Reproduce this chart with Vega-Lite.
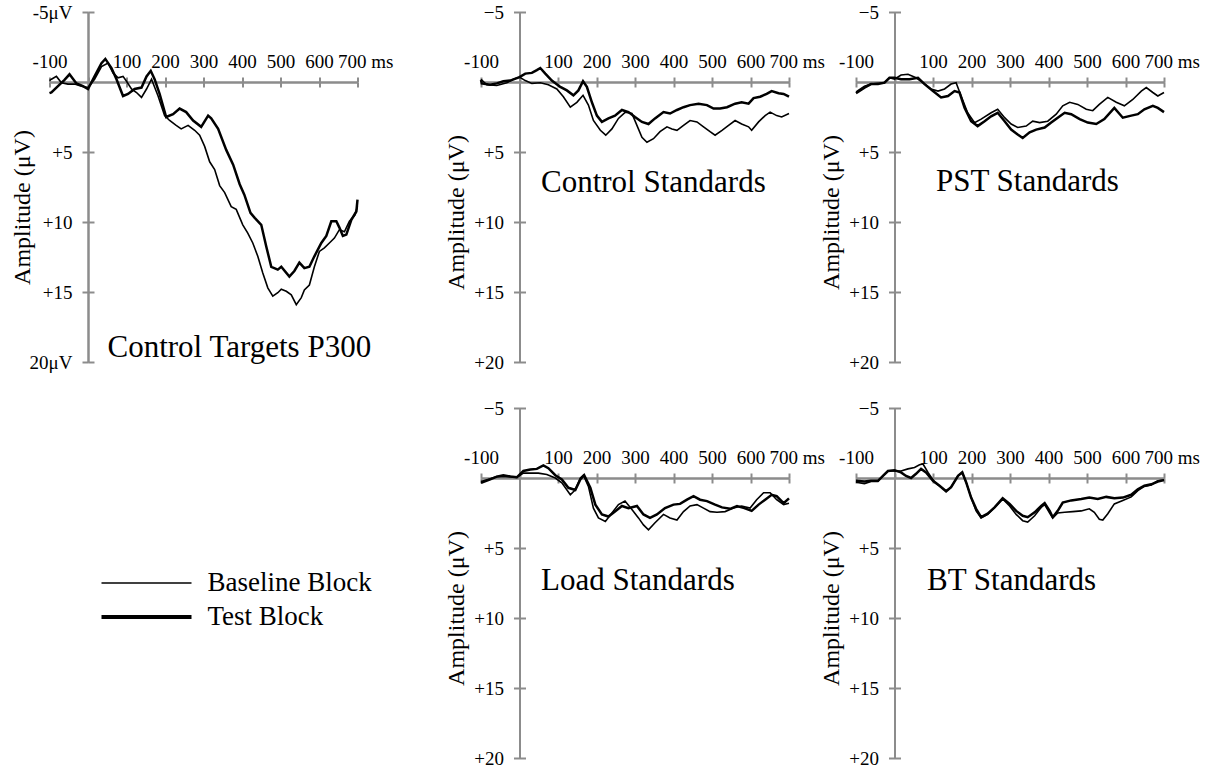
{
"$schema": "https://vega.github.io/schema/vega-lite/v6.json",
"padding": {"left": 9.5, "top": 3, "right": 5, "bottom": 5},
"background": "white",
"config": {
  "font": "Liberation Serif",
  "view": {"stroke": null},
  "axis": {"grid": false, "domainColor": "#8c8c8c", "domainWidth": 2, "tickColor": "#8c8c8c", "tickWidth": 2, "labelFont": "Liberation Serif", "labelFontSize": 19, "labelColor": "black", "titleFont": "Liberation Serif", "titleFontSize": 24, "titleFontWeight": "normal", "titleColor": "black", "labelFlush": false, "labelOverlap": false, "labelBound": false}
},
"datasets": {"erp": [
{"p":1,"b":"Test Block","t":-100,"v":0.8},{"p":1,"b":"Test Block","t":-95,"v":0.75},{"p":1,"b":"Test Block","t":-78,"v":0.3},{"p":1,"b":"Test Block","t":-61,"v":-0.15},{"p":1,"b":"Test Block","t":-48,"v":-0.55},{"p":1,"b":"Test Block","t":-30,"v":0.1},{"p":1,"b":"Test Block","t":-13,"v":0.3},{"p":1,"b":"Test Block","t":0,"v":0.5},{"p":1,"b":"Test Block","t":17,"v":-0.4},{"p":1,"b":"Test Block","t":35,"v":-1.35},{"p":1,"b":"Test Block","t":45,"v":-1.65},{"p":1,"b":"Test Block","t":61,"v":-1.0},{"p":1,"b":"Test Block","t":74,"v":-0.2},{"p":1,"b":"Test Block","t":91,"v":1.0},{"p":1,"b":"Test Block","t":104,"v":0.85},{"p":1,"b":"Test Block","t":121,"v":0.5},{"p":1,"b":"Test Block","t":139,"v":0.4},{"p":1,"b":"Test Block","t":152,"v":-0.4},{"p":1,"b":"Test Block","t":163,"v":-0.8},{"p":1,"b":"Test Block","t":173,"v":-0.2},{"p":1,"b":"Test Block","t":186,"v":0.85},{"p":1,"b":"Test Block","t":203,"v":2.5},{"p":1,"b":"Test Block","t":221,"v":2.3},{"p":1,"b":"Test Block","t":238,"v":1.9},{"p":1,"b":"Test Block","t":255,"v":2.15},{"p":1,"b":"Test Block","t":273,"v":2.75},{"p":1,"b":"Test Block","t":294,"v":3.2},{"p":1,"b":"Test Block","t":312,"v":2.4},{"p":1,"b":"Test Block","t":320,"v":2.6},{"p":1,"b":"Test Block","t":338,"v":3.35},{"p":1,"b":"Test Block","t":359,"v":4.85},{"p":1,"b":"Test Block","t":377,"v":5.9},{"p":1,"b":"Test Block","t":394,"v":7.3},{"p":1,"b":"Test Block","t":406,"v":8.05},{"p":1,"b":"Test Block","t":422,"v":9.35},{"p":1,"b":"Test Block","t":433,"v":9.7},{"p":1,"b":"Test Block","t":450,"v":10.2},{"p":1,"b":"Test Block","t":463,"v":11.75},{"p":1,"b":"Test Block","t":476,"v":13.2},{"p":1,"b":"Test Block","t":493,"v":13.4},{"p":1,"b":"Test Block","t":502,"v":13.2},{"p":1,"b":"Test Block","t":523,"v":13.9},{"p":1,"b":"Test Block","t":536,"v":13.5},{"p":1,"b":"Test Block","t":549,"v":12.9},{"p":1,"b":"Test Block","t":562,"v":13.3},{"p":1,"b":"Test Block","t":575,"v":13.2},{"p":1,"b":"Test Block","t":588,"v":12.45},{"p":1,"b":"Test Block","t":606,"v":11.5},{"p":1,"b":"Test Block","t":619,"v":11.0},{"p":1,"b":"Test Block","t":632,"v":9.95},{"p":1,"b":"Test Block","t":645,"v":9.95},{"p":1,"b":"Test Block","t":653,"v":10.4},{"p":1,"b":"Test Block","t":662,"v":11.0},{"p":1,"b":"Test Block","t":671,"v":10.9},{"p":1,"b":"Test Block","t":684,"v":9.85},{"p":1,"b":"Test Block","t":697,"v":9.25},{"p":1,"b":"Test Block","t":700,"v":8.4},
{"p":1,"b":"Baseline Block","t":-100,"v":-0.1},{"p":1,"b":"Baseline Block","t":-95,"v":-0.2},{"p":1,"b":"Baseline Block","t":-82,"v":-0.4},{"p":1,"b":"Baseline Block","t":-69,"v":0.05},{"p":1,"b":"Baseline Block","t":-52,"v":0.15},{"p":1,"b":"Baseline Block","t":-35,"v":0.15},{"p":1,"b":"Baseline Block","t":-17,"v":0.3},{"p":1,"b":"Baseline Block","t":0,"v":0.4},{"p":1,"b":"Baseline Block","t":17,"v":-0.2},{"p":1,"b":"Baseline Block","t":35,"v":-1.1},{"p":1,"b":"Baseline Block","t":52,"v":-1.35},{"p":1,"b":"Baseline Block","t":65,"v":-0.65},{"p":1,"b":"Baseline Block","t":78,"v":-0.3},{"p":1,"b":"Baseline Block","t":91,"v":-0.4},{"p":1,"b":"Baseline Block","t":100,"v":-0.05},{"p":1,"b":"Baseline Block","t":113,"v":0.5},{"p":1,"b":"Baseline Block","t":126,"v":0.75},{"p":1,"b":"Baseline Block","t":139,"v":1.1},{"p":1,"b":"Baseline Block","t":152,"v":0.5},{"p":1,"b":"Baseline Block","t":165,"v":-0.2},{"p":1,"b":"Baseline Block","t":182,"v":1.0},{"p":1,"b":"Baseline Block","t":199,"v":2.4},{"p":1,"b":"Baseline Block","t":212,"v":2.75},{"p":1,"b":"Baseline Block","t":229,"v":3.1},{"p":1,"b":"Baseline Block","t":242,"v":3.35},{"p":1,"b":"Baseline Block","t":260,"v":3.1},{"p":1,"b":"Baseline Block","t":277,"v":3.45},{"p":1,"b":"Baseline Block","t":290,"v":3.8},{"p":1,"b":"Baseline Block","t":303,"v":4.6},{"p":1,"b":"Baseline Block","t":316,"v":5.7},{"p":1,"b":"Baseline Block","t":329,"v":6.25},{"p":1,"b":"Baseline Block","t":342,"v":7.4},{"p":1,"b":"Baseline Block","t":355,"v":7.9},{"p":1,"b":"Baseline Block","t":372,"v":8.9},{"p":1,"b":"Baseline Block","t":385,"v":9.1},{"p":1,"b":"Baseline Block","t":402,"v":10.2},{"p":1,"b":"Baseline Block","t":415,"v":10.8},{"p":1,"b":"Baseline Block","t":428,"v":11.5},{"p":1,"b":"Baseline Block","t":441,"v":12.45},{"p":1,"b":"Baseline Block","t":454,"v":13.65},{"p":1,"b":"Baseline Block","t":467,"v":14.7},{"p":1,"b":"Baseline Block","t":480,"v":15.3},{"p":1,"b":"Baseline Block","t":493,"v":15.05},{"p":1,"b":"Baseline Block","t":502,"v":14.8},{"p":1,"b":"Baseline Block","t":515,"v":14.95},{"p":1,"b":"Baseline Block","t":528,"v":15.2},{"p":1,"b":"Baseline Block","t":541,"v":15.9},{"p":1,"b":"Baseline Block","t":554,"v":15.4},{"p":1,"b":"Baseline Block","t":562,"v":14.85},{"p":1,"b":"Baseline Block","t":575,"v":14.5},{"p":1,"b":"Baseline Block","t":588,"v":13.2},{"p":1,"b":"Baseline Block","t":601,"v":12.1},{"p":1,"b":"Baseline Block","t":614,"v":11.85},{"p":1,"b":"Baseline Block","t":627,"v":11.5},{"p":1,"b":"Baseline Block","t":640,"v":11.15},{"p":1,"b":"Baseline Block","t":653,"v":10.55},{"p":1,"b":"Baseline Block","t":666,"v":10.7},{"p":1,"b":"Baseline Block","t":679,"v":9.95},{"p":1,"b":"Baseline Block","t":693,"v":9.5},{"p":1,"b":"Baseline Block","t":700,"v":8.9},
{"p":2,"b":"Test Block","t":-100,"v":-0.15},{"p":2,"b":"Test Block","t":-98,"v":0.1},{"p":2,"b":"Test Block","t":-76,"v":0.2},{"p":2,"b":"Test Block","t":-59,"v":0.1},{"p":2,"b":"Test Block","t":-42,"v":-0.05},{"p":2,"b":"Test Block","t":-24,"v":-0.1},{"p":2,"b":"Test Block","t":0,"v":-0.35},{"p":2,"b":"Test Block","t":15,"v":-0.6},{"p":2,"b":"Test Block","t":32,"v":-0.65},{"p":2,"b":"Test Block","t":45,"v":-0.85},{"p":2,"b":"Test Block","t":54,"v":-1.0},{"p":2,"b":"Test Block","t":67,"v":-0.6},{"p":2,"b":"Test Block","t":84,"v":-0.1},{"p":2,"b":"Test Block","t":106,"v":0.35},{"p":2,"b":"Test Block","t":123,"v":0.6},{"p":2,"b":"Test Block","t":140,"v":0.95},{"p":2,"b":"Test Block","t":153,"v":0.6},{"p":2,"b":"Test Block","t":165,"v":-0.05},{"p":2,"b":"Test Block","t":175,"v":0.35},{"p":2,"b":"Test Block","t":188,"v":1.45},{"p":2,"b":"Test Block","t":201,"v":2.4},{"p":2,"b":"Test Block","t":214,"v":2.85},{"p":2,"b":"Test Block","t":231,"v":2.6},{"p":2,"b":"Test Block","t":248,"v":2.4},{"p":2,"b":"Test Block","t":266,"v":2.0},{"p":2,"b":"Test Block","t":283,"v":2.15},{"p":2,"b":"Test Block","t":300,"v":2.5},{"p":2,"b":"Test Block","t":318,"v":2.85},{"p":2,"b":"Test Block","t":335,"v":3.0},{"p":2,"b":"Test Block","t":352,"v":2.6},{"p":2,"b":"Test Block","t":374,"v":2.15},{"p":2,"b":"Test Block","t":391,"v":2.25},{"p":2,"b":"Test Block","t":409,"v":2.0},{"p":2,"b":"Test Block","t":426,"v":1.8},{"p":2,"b":"Test Block","t":443,"v":1.65},{"p":2,"b":"Test Block","t":465,"v":1.55},{"p":2,"b":"Test Block","t":487,"v":1.65},{"p":2,"b":"Test Block","t":504,"v":1.9},{"p":2,"b":"Test Block","t":521,"v":1.9},{"p":2,"b":"Test Block","t":539,"v":1.8},{"p":2,"b":"Test Block","t":560,"v":1.55},{"p":2,"b":"Test Block","t":577,"v":1.45},{"p":2,"b":"Test Block","t":595,"v":1.55},{"p":2,"b":"Test Block","t":608,"v":1.15},{"p":2,"b":"Test Block","t":625,"v":1.05},{"p":2,"b":"Test Block","t":642,"v":0.85},{"p":2,"b":"Test Block","t":655,"v":0.65},{"p":2,"b":"Test Block","t":673,"v":0.8},{"p":2,"b":"Test Block","t":686,"v":0.85},{"p":2,"b":"Test Block","t":700,"v":1.05},
{"p":2,"b":"Baseline Block","t":-100,"v":-0.2},{"p":2,"b":"Baseline Block","t":-85,"v":0.2},{"p":2,"b":"Baseline Block","t":-59,"v":0.25},{"p":2,"b":"Baseline Block","t":-33,"v":0.05},{"p":2,"b":"Baseline Block","t":-16,"v":-0.2},{"p":2,"b":"Baseline Block","t":0,"v":-0.35},{"p":2,"b":"Baseline Block","t":15,"v":-0.1},{"p":2,"b":"Baseline Block","t":32,"v":0.1},{"p":2,"b":"Baseline Block","t":54,"v":0.05},{"p":2,"b":"Baseline Block","t":75,"v":0.2},{"p":2,"b":"Baseline Block","t":97,"v":0.5},{"p":2,"b":"Baseline Block","t":114,"v":1.05},{"p":2,"b":"Baseline Block","t":132,"v":1.8},{"p":2,"b":"Baseline Block","t":149,"v":1.45},{"p":2,"b":"Baseline Block","t":165,"v":0.95},{"p":2,"b":"Baseline Block","t":179,"v":1.65},{"p":2,"b":"Baseline Block","t":192,"v":2.75},{"p":2,"b":"Baseline Block","t":210,"v":3.45},{"p":2,"b":"Baseline Block","t":224,"v":3.8},{"p":2,"b":"Baseline Block","t":240,"v":3.35},{"p":2,"b":"Baseline Block","t":257,"v":2.6},{"p":2,"b":"Baseline Block","t":275,"v":2.15},{"p":2,"b":"Baseline Block","t":292,"v":2.25},{"p":2,"b":"Baseline Block","t":305,"v":3.1},{"p":2,"b":"Baseline Block","t":318,"v":3.95},{"p":2,"b":"Baseline Block","t":331,"v":4.3},{"p":2,"b":"Baseline Block","t":348,"v":4.05},{"p":2,"b":"Baseline Block","t":365,"v":3.55},{"p":2,"b":"Baseline Block","t":383,"v":3.2},{"p":2,"b":"Baseline Block","t":396,"v":3.35},{"p":2,"b":"Baseline Block","t":409,"v":3.45},{"p":2,"b":"Baseline Block","t":426,"v":3.1},{"p":2,"b":"Baseline Block","t":443,"v":2.75},{"p":2,"b":"Baseline Block","t":461,"v":2.85},{"p":2,"b":"Baseline Block","t":478,"v":3.2},{"p":2,"b":"Baseline Block","t":495,"v":3.55},{"p":2,"b":"Baseline Block","t":508,"v":3.8},{"p":2,"b":"Baseline Block","t":526,"v":3.45},{"p":2,"b":"Baseline Block","t":543,"v":3.1},{"p":2,"b":"Baseline Block","t":560,"v":2.75},{"p":2,"b":"Baseline Block","t":577,"v":3.0},{"p":2,"b":"Baseline Block","t":595,"v":3.2},{"p":2,"b":"Baseline Block","t":603,"v":3.45},{"p":2,"b":"Baseline Block","t":621,"v":2.85},{"p":2,"b":"Baseline Block","t":638,"v":2.4},{"p":2,"b":"Baseline Block","t":651,"v":2.15},{"p":2,"b":"Baseline Block","t":668,"v":2.4},{"p":2,"b":"Baseline Block","t":681,"v":2.5},{"p":2,"b":"Baseline Block","t":700,"v":2.25},
{"p":3,"b":"Test Block","t":-100,"v":0.8},{"p":3,"b":"Test Block","t":-97,"v":0.75},{"p":3,"b":"Test Block","t":-78,"v":0.4},{"p":3,"b":"Test Block","t":-61,"v":0.15},{"p":3,"b":"Test Block","t":-43,"v":0.15},{"p":3,"b":"Test Block","t":-26,"v":0.05},{"p":3,"b":"Test Block","t":-13,"v":-0.3},{"p":3,"b":"Test Block","t":0,"v":-0.3},{"p":3,"b":"Test Block","t":17,"v":-0.2},{"p":3,"b":"Test Block","t":39,"v":-0.2},{"p":3,"b":"Test Block","t":61,"v":-0.3},{"p":3,"b":"Test Block","t":78,"v":0.15},{"p":3,"b":"Test Block","t":100,"v":0.65},{"p":3,"b":"Test Block","t":121,"v":1.1},{"p":3,"b":"Test Block","t":139,"v":1.0},{"p":3,"b":"Test Block","t":156,"v":0.65},{"p":3,"b":"Test Block","t":169,"v":0.75},{"p":3,"b":"Test Block","t":182,"v":1.85},{"p":3,"b":"Test Block","t":199,"v":2.8},{"p":3,"b":"Test Block","t":216,"v":3.15},{"p":3,"b":"Test Block","t":234,"v":2.8},{"p":3,"b":"Test Block","t":251,"v":2.45},{"p":3,"b":"Test Block","t":268,"v":2.2},{"p":3,"b":"Test Block","t":286,"v":2.8},{"p":3,"b":"Test Block","t":303,"v":3.4},{"p":3,"b":"Test Block","t":320,"v":3.75},{"p":3,"b":"Test Block","t":333,"v":4.0},{"p":3,"b":"Test Block","t":351,"v":3.6},{"p":3,"b":"Test Block","t":368,"v":3.4},{"p":3,"b":"Test Block","t":390,"v":3.25},{"p":3,"b":"Test Block","t":407,"v":2.9},{"p":3,"b":"Test Block","t":424,"v":2.55},{"p":3,"b":"Test Block","t":442,"v":2.2},{"p":3,"b":"Test Block","t":459,"v":2.3},{"p":3,"b":"Test Block","t":481,"v":2.65},{"p":3,"b":"Test Block","t":502,"v":2.9},{"p":3,"b":"Test Block","t":524,"v":3.0},{"p":3,"b":"Test Block","t":545,"v":2.65},{"p":3,"b":"Test Block","t":571,"v":1.85},{"p":3,"b":"Test Block","t":593,"v":2.55},{"p":3,"b":"Test Block","t":615,"v":2.4},{"p":3,"b":"Test Block","t":632,"v":2.3},{"p":3,"b":"Test Block","t":649,"v":1.95},{"p":3,"b":"Test Block","t":671,"v":1.7},{"p":3,"b":"Test Block","t":684,"v":1.85},{"p":3,"b":"Test Block","t":700,"v":2.15},
{"p":3,"b":"Baseline Block","t":-100,"v":0.7},{"p":3,"b":"Baseline Block","t":-97,"v":0.65},{"p":3,"b":"Baseline Block","t":-78,"v":0.3},{"p":3,"b":"Baseline Block","t":-61,"v":0.15},{"p":3,"b":"Baseline Block","t":-43,"v":0.1},{"p":3,"b":"Baseline Block","t":-26,"v":0.05},{"p":3,"b":"Baseline Block","t":-13,"v":-0.3},{"p":3,"b":"Baseline Block","t":0,"v":-0.2},{"p":3,"b":"Baseline Block","t":17,"v":-0.5},{"p":3,"b":"Baseline Block","t":35,"v":-0.55},{"p":3,"b":"Baseline Block","t":56,"v":-0.3},{"p":3,"b":"Baseline Block","t":74,"v":0.05},{"p":3,"b":"Baseline Block","t":95,"v":0.5},{"p":3,"b":"Baseline Block","t":113,"v":0.65},{"p":3,"b":"Baseline Block","t":130,"v":0.5},{"p":3,"b":"Baseline Block","t":147,"v":0.15},{"p":3,"b":"Baseline Block","t":160,"v":0.05},{"p":3,"b":"Baseline Block","t":173,"v":1.0},{"p":3,"b":"Baseline Block","t":190,"v":2.2},{"p":3,"b":"Baseline Block","t":208,"v":2.9},{"p":3,"b":"Baseline Block","t":225,"v":2.65},{"p":3,"b":"Baseline Block","t":251,"v":2.2},{"p":3,"b":"Baseline Block","t":268,"v":1.95},{"p":3,"b":"Baseline Block","t":286,"v":2.55},{"p":3,"b":"Baseline Block","t":303,"v":3.0},{"p":3,"b":"Baseline Block","t":320,"v":3.25},{"p":3,"b":"Baseline Block","t":342,"v":3.15},{"p":3,"b":"Baseline Block","t":359,"v":2.8},{"p":3,"b":"Baseline Block","t":377,"v":2.9},{"p":3,"b":"Baseline Block","t":398,"v":2.8},{"p":3,"b":"Baseline Block","t":420,"v":2.3},{"p":3,"b":"Baseline Block","t":437,"v":1.7},{"p":3,"b":"Baseline Block","t":455,"v":1.45},{"p":3,"b":"Baseline Block","t":476,"v":1.6},{"p":3,"b":"Baseline Block","t":498,"v":1.95},{"p":3,"b":"Baseline Block","t":515,"v":2.05},{"p":3,"b":"Baseline Block","t":532,"v":1.6},{"p":3,"b":"Baseline Block","t":554,"v":1.1},{"p":3,"b":"Baseline Block","t":576,"v":1.45},{"p":3,"b":"Baseline Block","t":597,"v":1.7},{"p":3,"b":"Baseline Block","t":619,"v":1.25},{"p":3,"b":"Baseline Block","t":641,"v":0.65},{"p":3,"b":"Baseline Block","t":654,"v":0.4},{"p":3,"b":"Baseline Block","t":671,"v":0.75},{"p":3,"b":"Baseline Block","t":684,"v":1.0},{"p":3,"b":"Baseline Block","t":700,"v":0.75},
{"p":4,"b":"Test Block","t":-100,"v":0.35},{"p":4,"b":"Test Block","t":-76,"v":0.1},{"p":4,"b":"Test Block","t":-59,"v":-0.1},{"p":4,"b":"Test Block","t":-42,"v":-0.2},{"p":4,"b":"Test Block","t":-24,"v":-0.1},{"p":4,"b":"Test Block","t":-7,"v":-0.05},{"p":4,"b":"Test Block","t":10,"v":-0.5},{"p":4,"b":"Test Block","t":28,"v":-0.6},{"p":4,"b":"Test Block","t":45,"v":-0.65},{"p":4,"b":"Test Block","t":62,"v":-0.9},{"p":4,"b":"Test Block","t":75,"v":-0.7},{"p":4,"b":"Test Block","t":93,"v":-0.2},{"p":4,"b":"Test Block","t":110,"v":0.1},{"p":4,"b":"Test Block","t":127,"v":0.7},{"p":4,"b":"Test Block","t":145,"v":0.85},{"p":4,"b":"Test Block","t":158,"v":0.1},{"p":4,"b":"Test Block","t":168,"v":-0.2},{"p":4,"b":"Test Block","t":184,"v":0.7},{"p":4,"b":"Test Block","t":197,"v":1.9},{"p":4,"b":"Test Block","t":214,"v":2.6},{"p":4,"b":"Test Block","t":231,"v":2.75},{"p":4,"b":"Test Block","t":248,"v":2.4},{"p":4,"b":"Test Block","t":266,"v":2.0},{"p":4,"b":"Test Block","t":283,"v":2.15},{"p":4,"b":"Test Block","t":305,"v":2.0},{"p":4,"b":"Test Block","t":322,"v":2.6},{"p":4,"b":"Test Block","t":339,"v":2.85},{"p":4,"b":"Test Block","t":357,"v":2.6},{"p":4,"b":"Test Block","t":378,"v":2.15},{"p":4,"b":"Test Block","t":400,"v":1.9},{"p":4,"b":"Test Block","t":417,"v":1.85},{"p":4,"b":"Test Block","t":435,"v":1.55},{"p":4,"b":"Test Block","t":452,"v":1.3},{"p":4,"b":"Test Block","t":469,"v":1.55},{"p":4,"b":"Test Block","t":487,"v":1.65},{"p":4,"b":"Test Block","t":508,"v":1.9},{"p":4,"b":"Test Block","t":526,"v":2.1},{"p":4,"b":"Test Block","t":547,"v":2.2},{"p":4,"b":"Test Block","t":565,"v":2.0},{"p":4,"b":"Test Block","t":584,"v":2.15},{"p":4,"b":"Test Block","t":603,"v":2.35},{"p":4,"b":"Test Block","t":621,"v":1.9},{"p":4,"b":"Test Block","t":638,"v":1.55},{"p":4,"b":"Test Block","t":655,"v":1.2},{"p":4,"b":"Test Block","t":668,"v":1.3},{"p":4,"b":"Test Block","t":686,"v":1.8},{"p":4,"b":"Test Block","t":700,"v":1.45},
{"p":4,"b":"Baseline Block","t":-100,"v":0.25},{"p":4,"b":"Baseline Block","t":-76,"v":0.05},{"p":4,"b":"Baseline Block","t":-59,"v":-0.1},{"p":4,"b":"Baseline Block","t":-42,"v":-0.1},{"p":4,"b":"Baseline Block","t":-24,"v":-0.1},{"p":4,"b":"Baseline Block","t":-7,"v":-0.05},{"p":4,"b":"Baseline Block","t":10,"v":-0.35},{"p":4,"b":"Baseline Block","t":28,"v":-0.35},{"p":4,"b":"Baseline Block","t":49,"v":-0.35},{"p":4,"b":"Baseline Block","t":71,"v":-0.25},{"p":4,"b":"Baseline Block","t":93,"v":0.0},{"p":4,"b":"Baseline Block","t":110,"v":0.35},{"p":4,"b":"Baseline Block","t":132,"v":1.2},{"p":4,"b":"Baseline Block","t":145,"v":0.85},{"p":4,"b":"Baseline Block","t":158,"v":0.0},{"p":4,"b":"Baseline Block","t":166,"v":-0.2},{"p":4,"b":"Baseline Block","t":179,"v":0.6},{"p":4,"b":"Baseline Block","t":192,"v":2.15},{"p":4,"b":"Baseline Block","t":205,"v":2.85},{"p":4,"b":"Baseline Block","t":223,"v":3.1},{"p":4,"b":"Baseline Block","t":240,"v":2.5},{"p":4,"b":"Baseline Block","t":257,"v":1.9},{"p":4,"b":"Baseline Block","t":274,"v":1.65},{"p":4,"b":"Baseline Block","t":292,"v":2.25},{"p":4,"b":"Baseline Block","t":309,"v":2.85},{"p":4,"b":"Baseline Block","t":322,"v":3.35},{"p":4,"b":"Baseline Block","t":335,"v":3.7},{"p":4,"b":"Baseline Block","t":352,"v":3.2},{"p":4,"b":"Baseline Block","t":374,"v":2.6},{"p":4,"b":"Baseline Block","t":391,"v":2.85},{"p":4,"b":"Baseline Block","t":409,"v":3.0},{"p":4,"b":"Baseline Block","t":426,"v":2.4},{"p":4,"b":"Baseline Block","t":443,"v":2.0},{"p":4,"b":"Baseline Block","t":461,"v":1.9},{"p":4,"b":"Baseline Block","t":478,"v":2.15},{"p":4,"b":"Baseline Block","t":495,"v":2.4},{"p":4,"b":"Baseline Block","t":513,"v":2.45},{"p":4,"b":"Baseline Block","t":534,"v":2.4},{"p":4,"b":"Baseline Block","t":556,"v":2.15},{"p":4,"b":"Baseline Block","t":577,"v":2.0},{"p":4,"b":"Baseline Block","t":599,"v":2.15},{"p":4,"b":"Baseline Block","t":616,"v":1.55},{"p":4,"b":"Baseline Block","t":634,"v":1.05},{"p":4,"b":"Baseline Block","t":651,"v":1.05},{"p":4,"b":"Baseline Block","t":668,"v":1.55},{"p":4,"b":"Baseline Block","t":686,"v":1.9},{"p":4,"b":"Baseline Block","t":700,"v":1.8},
{"p":5,"b":"Test Block","t":-100,"v":0.2},{"p":5,"b":"Test Block","t":-78,"v":0.25},{"p":5,"b":"Test Block","t":-61,"v":0.2},{"p":5,"b":"Test Block","t":-43,"v":0.2},{"p":5,"b":"Test Block","t":-30,"v":-0.15},{"p":5,"b":"Test Block","t":-17,"v":-0.5},{"p":5,"b":"Test Block","t":0,"v":-0.55},{"p":5,"b":"Test Block","t":17,"v":-0.4},{"p":5,"b":"Test Block","t":30,"v":-0.15},{"p":5,"b":"Test Block","t":43,"v":0.0},{"p":5,"b":"Test Block","t":56,"v":-0.3},{"p":5,"b":"Test Block","t":69,"v":-0.65},{"p":5,"b":"Test Block","t":82,"v":-0.4},{"p":5,"b":"Test Block","t":100,"v":0.2},{"p":5,"b":"Test Block","t":117,"v":0.55},{"p":5,"b":"Test Block","t":134,"v":0.95},{"p":5,"b":"Test Block","t":147,"v":0.65},{"p":5,"b":"Test Block","t":165,"v":-0.15},{"p":5,"b":"Test Block","t":176,"v":-0.4},{"p":5,"b":"Test Block","t":186,"v":0.3},{"p":5,"b":"Test Block","t":199,"v":1.4},{"p":5,"b":"Test Block","t":212,"v":2.2},{"p":5,"b":"Test Block","t":225,"v":2.8},{"p":5,"b":"Test Block","t":242,"v":2.55},{"p":5,"b":"Test Block","t":260,"v":2.1},{"p":5,"b":"Test Block","t":281,"v":1.45},{"p":5,"b":"Test Block","t":299,"v":1.85},{"p":5,"b":"Test Block","t":316,"v":2.35},{"p":5,"b":"Test Block","t":333,"v":2.7},{"p":5,"b":"Test Block","t":346,"v":2.8},{"p":5,"b":"Test Block","t":364,"v":2.45},{"p":5,"b":"Test Block","t":381,"v":2.0},{"p":5,"b":"Test Block","t":390,"v":1.8},{"p":5,"b":"Test Block","t":403,"v":2.35},{"p":5,"b":"Test Block","t":411,"v":2.8},{"p":5,"b":"Test Block","t":424,"v":2.35},{"p":5,"b":"Test Block","t":437,"v":1.75},{"p":5,"b":"Test Block","t":459,"v":1.6},{"p":5,"b":"Test Block","t":485,"v":1.5},{"p":5,"b":"Test Block","t":506,"v":1.4},{"p":5,"b":"Test Block","t":528,"v":1.5},{"p":5,"b":"Test Block","t":550,"v":1.35},{"p":5,"b":"Test Block","t":571,"v":1.45},{"p":5,"b":"Test Block","t":593,"v":1.4},{"p":5,"b":"Test Block","t":615,"v":1.2},{"p":5,"b":"Test Block","t":632,"v":0.8},{"p":5,"b":"Test Block","t":649,"v":0.55},{"p":5,"b":"Test Block","t":667,"v":0.45},{"p":5,"b":"Test Block","t":684,"v":0.25},{"p":5,"b":"Test Block","t":700,"v":0.15},
{"p":5,"b":"Baseline Block","t":-100,"v":0.3},{"p":5,"b":"Baseline Block","t":-78,"v":0.4},{"p":5,"b":"Baseline Block","t":-61,"v":0.25},{"p":5,"b":"Baseline Block","t":-43,"v":0.25},{"p":5,"b":"Baseline Block","t":-30,"v":-0.15},{"p":5,"b":"Baseline Block","t":-17,"v":-0.5},{"p":5,"b":"Baseline Block","t":0,"v":-0.5},{"p":5,"b":"Baseline Block","t":17,"v":-0.5},{"p":5,"b":"Baseline Block","t":35,"v":-0.65},{"p":5,"b":"Baseline Block","t":52,"v":-0.75},{"p":5,"b":"Baseline Block","t":65,"v":-0.95},{"p":5,"b":"Baseline Block","t":74,"v":-1.0},{"p":5,"b":"Baseline Block","t":87,"v":-0.4},{"p":5,"b":"Baseline Block","t":104,"v":0.3},{"p":5,"b":"Baseline Block","t":121,"v":0.65},{"p":5,"b":"Baseline Block","t":134,"v":0.95},{"p":5,"b":"Baseline Block","t":147,"v":0.65},{"p":5,"b":"Baseline Block","t":165,"v":-0.15},{"p":5,"b":"Baseline Block","t":176,"v":-0.4},{"p":5,"b":"Baseline Block","t":186,"v":0.3},{"p":5,"b":"Baseline Block","t":199,"v":1.4},{"p":5,"b":"Baseline Block","t":212,"v":2.35},{"p":5,"b":"Baseline Block","t":225,"v":2.85},{"p":5,"b":"Baseline Block","t":242,"v":2.6},{"p":5,"b":"Baseline Block","t":260,"v":2.1},{"p":5,"b":"Baseline Block","t":281,"v":1.5},{"p":5,"b":"Baseline Block","t":299,"v":2.0},{"p":5,"b":"Baseline Block","t":316,"v":2.6},{"p":5,"b":"Baseline Block","t":333,"v":3.05},{"p":5,"b":"Baseline Block","t":346,"v":3.15},{"p":5,"b":"Baseline Block","t":364,"v":2.7},{"p":5,"b":"Baseline Block","t":381,"v":2.1},{"p":5,"b":"Baseline Block","t":390,"v":1.9},{"p":5,"b":"Baseline Block","t":403,"v":2.5},{"p":5,"b":"Baseline Block","t":411,"v":2.85},{"p":5,"b":"Baseline Block","t":424,"v":2.5},{"p":5,"b":"Baseline Block","t":442,"v":2.45},{"p":5,"b":"Baseline Block","t":463,"v":2.4},{"p":5,"b":"Baseline Block","t":485,"v":2.35},{"p":5,"b":"Baseline Block","t":506,"v":2.2},{"p":5,"b":"Baseline Block","t":519,"v":2.45},{"p":5,"b":"Baseline Block","t":532,"v":2.95},{"p":5,"b":"Baseline Block","t":541,"v":3.0},{"p":5,"b":"Baseline Block","t":554,"v":2.55},{"p":5,"b":"Baseline Block","t":571,"v":1.85},{"p":5,"b":"Baseline Block","t":593,"v":1.6},{"p":5,"b":"Baseline Block","t":615,"v":1.35},{"p":5,"b":"Baseline Block","t":632,"v":0.9},{"p":5,"b":"Baseline Block","t":649,"v":0.6},{"p":5,"b":"Baseline Block","t":667,"v":0.5},{"p":5,"b":"Baseline Block","t":684,"v":0.2},{"p":5,"b":"Baseline Block","t":700,"v":0.15}
]},
"bounds": "flush",
"spacing": 123.5,
"resolve": {"scale": {"x": "independent", "y": "independent", "strokeWidth": "independent"}, "legend": {"strokeWidth": "independent"}},
"hconcat": [
 {
  "width": 308, "height": 350,
  "title": {"text": "Control Targets P300", "orient": "top", "anchor": "start", "frame": "group", "align": "left", "baseline": "alphabetic", "dx": 58, "dy": 385, "offset": 0, "font": "Liberation Serif", "fontSize": 31, "fontWeight": "normal", "color": "black"},
  "data": {"name": "erp"},
  "transform": [{"filter": "datum.p == 1"}],
  "resolve": {"axis": {"x": "independent", "y": "independent"}},
  "layer": [
   {"transform": [{"filter": "datum.b == 'Baseline Block'"}],
    "mark": {"type": "line", "color": "black"},
    "encoding": {
     "x": {"field": "t", "type": "quantitative", "scale": {"domain": [-100, 700], "nice": false, "zero": false}, "axis": {"orient": "top", "offset": -70, "values": [-100, 0, 100, 200, 300, 400, 500, 600, 700], "labelExpr": "datum.value == 0 ? '' : datum.value == 700 ? '700 ms' : '' + datum.value", "labelAlign": {"condition": {"test": "datum.value == 700", "value": "left"}, "value": "center"}, "labelOffset": {"condition": {"test": "datum.value == 700", "value": -20}, "value": 0}, "title": null, "tickSize": 5, "labelPadding": 6}},
     "y": {"field": "v", "type": "quantitative", "scale": {"domain": [-5, 20], "reverse": true, "nice": false, "zero": false}, "axis": {"orient": "left", "offset": -38.5, "values": [-5, 5, 10, 15, 20], "labelExpr": "datum.value == -5 ? '-5μV' : datum.value == 20 ? '20μV' : '+' + datum.value", "title": "Amplitude (μV)", "titleAngle": -90, "titleX": -66, "titleY": 195, "titleAlign": "center", "titleBaseline": "middle", "tickSize": 6, "labelPadding": 10}},
     "strokeWidth": {"field": "b", "type": "nominal", "scale": {"type": "ordinal", "domain": ["Baseline Block", "Test Block"], "range": [1.6, 3.8]}, "legend": {"orient": "none", "legendX": 80, "legendY": 555, "title": null, "padding": 0, "symbolType": "M-3,0L3,0", "symbolSize": 900, "symbolStrokeColor": "black", "labelFont": "Liberation Serif", "labelFontSize": 27, "labelColor": "black", "labelOffset": 44, "rowPadding": 4, "labelLimit": 400}}
    }},
   {"transform": [{"filter": "datum.b == 'Test Block'"}],
    "mark": {"type": "line", "color": "black"},
    "encoding": {
     "x": {"field": "t", "type": "quantitative", "axis": {"orient": "bottom", "offset": -280, "values": [-100, 100, 200, 300, 400, 500, 600, 700], "labels": false, "title": null, "tickSize": 5}},
     "y": {"field": "v", "type": "quantitative", "axis": {"orient": "right", "offset": -269.5, "values": [-5, 5, 10, 15, 20], "labels": false, "title": null, "tickSize": 6}},
     "strokeWidth": {"field": "b", "type": "nominal", "legend": null}
    }}
  ]
 },
 {
  "bounds": "full",
  "spacing": 27,
  "resolve": {"scale": {"x": "independent", "y": "independent", "strokeWidth": "independent"}, "legend": {"strokeWidth": "independent"}},
  "vconcat": [
   {"bounds": "flush", "spacing": 67,
    "resolve": {"scale": {"x": "independent", "y": "independent", "strokeWidth": "independent"}, "legend": {"strokeWidth": "independent"}},
    "hconcat": [
    {
     "width": 308, "height": 350,
     "title": {"text": "Control Standards", "orient": "top", "anchor": "start", "frame": "group", "align": "left", "baseline": "alphabetic", "dx": 60, "dy": 220, "offset": 0, "font": "Liberation Serif", "fontSize": 31, "fontWeight": "normal", "color": "black"},
     "data": {"name": "erp"},
     "transform": [{"filter": "datum.p == 2"}],
     "resolve": {"axis": {"x": "independent", "y": "independent"}},
     "layer": [
      {"transform": [{"filter": "datum.b == 'Baseline Block'"}],
       "mark": {"type": "line", "color": "black"},
       "encoding": {
        "x": {"field": "t", "type": "quantitative", "scale": {"domain": [-100, 700], "nice": false, "zero": false}, "axis": {"orient": "top", "offset": -70, "values": [-100, 0, 100, 200, 300, 400, 500, 600, 700], "labelExpr": "datum.value == 0 ? '' : datum.value == 700 ? '700 ms' : '' + datum.value", "labelAlign": {"condition": {"test": "datum.value == 700", "value": "left"}, "value": "center"}, "labelOffset": {"condition": {"test": "datum.value == 700", "value": -20}, "value": 0}, "title": null, "tickSize": 5, "labelPadding": 6}},
        "y": {"field": "v", "type": "quantitative", "scale": {"domain": [-5, 20], "reverse": true, "nice": false, "zero": false}, "axis": {"orient": "left", "offset": -38.5, "values": [-5, 5, 10, 15, 20], "labelExpr": "datum.value < 0 ? '−5' : '+' + datum.value", "title": "Amplitude (μV)", "titleAngle": -90, "titleX": -63, "titleY": 200, "titleAlign": "center", "titleBaseline": "middle", "tickSize": 6, "labelPadding": 10}},
        "strokeWidth": {"field": "b", "type": "nominal", "scale": {"type": "ordinal", "domain": ["Baseline Block", "Test Block"], "range": [1.6, 3.8]}, "legend": null}
       }},
      {"transform": [{"filter": "datum.b == 'Test Block'"}],
       "mark": {"type": "line", "color": "black"},
       "encoding": {
        "x": {"field": "t", "type": "quantitative", "axis": {"orient": "bottom", "offset": -280, "values": [-100, 100, 200, 300, 400, 500, 600, 700], "labels": false, "title": null, "tickSize": 5}},
        "y": {"field": "v", "type": "quantitative", "axis": {"orient": "right", "offset": -269.5, "values": [-5, 5, 10, 15, 20], "labels": false, "title": null, "tickSize": 6}},
        "strokeWidth": {"field": "b", "type": "nominal", "legend": null}
       }}
     ]
    },
    {
     "width": 308, "height": 350,
     "title": {"text": "PST Standards", "orient": "top", "anchor": "start", "frame": "group", "align": "left", "baseline": "alphabetic", "dx": 80, "dy": 219, "offset": 0, "font": "Liberation Serif", "fontSize": 31, "fontWeight": "normal", "color": "black"},
     "data": {"name": "erp"},
     "transform": [{"filter": "datum.p == 3"}],
     "resolve": {"axis": {"x": "independent", "y": "independent"}},
     "layer": [
      {"transform": [{"filter": "datum.b == 'Baseline Block'"}],
       "mark": {"type": "line", "color": "black"},
       "encoding": {
        "x": {"field": "t", "type": "quantitative", "scale": {"domain": [-100, 700], "nice": false, "zero": false}, "axis": {"orient": "top", "offset": -70, "values": [-100, 0, 100, 200, 300, 400, 500, 600, 700], "labelExpr": "datum.value == 0 ? '' : datum.value == 700 ? '700 ms' : '' + datum.value", "labelAlign": {"condition": {"test": "datum.value == 700", "value": "left"}, "value": "center"}, "labelOffset": {"condition": {"test": "datum.value == 700", "value": -20}, "value": 0}, "title": null, "tickSize": 5, "labelPadding": 6}},
        "y": {"field": "v", "type": "quantitative", "scale": {"domain": [-5, 20], "reverse": true, "nice": false, "zero": false}, "axis": {"orient": "left", "offset": -38.5, "values": [-5, 5, 10, 15, 20], "labelExpr": "datum.value < 0 ? '−5' : '+' + datum.value", "title": "Amplitude (μV)", "titleAngle": -90, "titleX": -63, "titleY": 200, "titleAlign": "center", "titleBaseline": "middle", "tickSize": 6, "labelPadding": 10}},
        "strokeWidth": {"field": "b", "type": "nominal", "scale": {"type": "ordinal", "domain": ["Baseline Block", "Test Block"], "range": [1.6, 3.8]}, "legend": null}
       }},
      {"transform": [{"filter": "datum.b == 'Test Block'"}],
       "mark": {"type": "line", "color": "black"},
       "encoding": {
        "x": {"field": "t", "type": "quantitative", "axis": {"orient": "bottom", "offset": -280, "values": [-100, 100, 200, 300, 400, 500, 600, 700], "labels": false, "title": null, "tickSize": 5}},
        "y": {"field": "v", "type": "quantitative", "axis": {"orient": "right", "offset": -269.5, "values": [-5, 5, 10, 15, 20], "labels": false, "title": null, "tickSize": 6}},
        "strokeWidth": {"field": "b", "type": "nominal", "legend": null}
       }}
     ]
    }
   ]},
   {"bounds": "flush", "spacing": 67,
    "resolve": {"scale": {"x": "independent", "y": "independent", "strokeWidth": "independent"}, "legend": {"strokeWidth": "independent"}},
    "hconcat": [
    {
     "width": 308, "height": 350,
     "title": {"text": "Load Standards", "orient": "top", "anchor": "start", "frame": "group", "align": "left", "baseline": "alphabetic", "dx": 60, "dy": 222, "offset": 0, "font": "Liberation Serif", "fontSize": 31, "fontWeight": "normal", "color": "black"},
     "data": {"name": "erp"},
     "transform": [{"filter": "datum.p == 4"}],
     "resolve": {"axis": {"x": "independent", "y": "independent"}},
     "layer": [
      {"transform": [{"filter": "datum.b == 'Baseline Block'"}],
       "mark": {"type": "line", "color": "black"},
       "encoding": {
        "x": {"field": "t", "type": "quantitative", "scale": {"domain": [-100, 700], "nice": false, "zero": false}, "axis": {"orient": "top", "offset": -70, "values": [-100, 0, 100, 200, 300, 400, 500, 600, 700], "labelExpr": "datum.value == 0 ? '' : datum.value == 700 ? '700 ms' : '' + datum.value", "labelAlign": {"condition": {"test": "datum.value == 700", "value": "left"}, "value": "center"}, "labelOffset": {"condition": {"test": "datum.value == 700", "value": -20}, "value": 0}, "title": null, "tickSize": 5, "labelPadding": 6}},
        "y": {"field": "v", "type": "quantitative", "scale": {"domain": [-5, 20], "reverse": true, "nice": false, "zero": false}, "axis": {"orient": "left", "offset": -38.5, "values": [-5, 5, 10, 15, 20], "labelExpr": "datum.value < 0 ? '−5' : '+' + datum.value", "title": "Amplitude (μV)", "titleAngle": -90, "titleX": -63, "titleY": 200, "titleAlign": "center", "titleBaseline": "middle", "tickSize": 6, "labelPadding": 10}},
        "strokeWidth": {"field": "b", "type": "nominal", "scale": {"type": "ordinal", "domain": ["Baseline Block", "Test Block"], "range": [1.6, 3.8]}, "legend": null}
       }},
      {"transform": [{"filter": "datum.b == 'Test Block'"}],
       "mark": {"type": "line", "color": "black"},
       "encoding": {
        "x": {"field": "t", "type": "quantitative", "axis": {"orient": "bottom", "offset": -280, "values": [-100, 100, 200, 300, 400, 500, 600, 700], "labels": false, "title": null, "tickSize": 5}},
        "y": {"field": "v", "type": "quantitative", "axis": {"orient": "right", "offset": -269.5, "values": [-5, 5, 10, 15, 20], "labels": false, "title": null, "tickSize": 6}},
        "strokeWidth": {"field": "b", "type": "nominal", "legend": null}
       }}
     ]
    },
    {
     "width": 308, "height": 350,
     "title": {"text": "BT Standards", "orient": "top", "anchor": "start", "frame": "group", "align": "left", "baseline": "alphabetic", "dx": 71, "dy": 222, "offset": 0, "font": "Liberation Serif", "fontSize": 31, "fontWeight": "normal", "color": "black"},
     "data": {"name": "erp"},
     "transform": [{"filter": "datum.p == 5"}],
     "resolve": {"axis": {"x": "independent", "y": "independent"}},
     "layer": [
      {"transform": [{"filter": "datum.b == 'Baseline Block'"}],
       "mark": {"type": "line", "color": "black"},
       "encoding": {
        "x": {"field": "t", "type": "quantitative", "scale": {"domain": [-100, 700], "nice": false, "zero": false}, "axis": {"orient": "top", "offset": -70, "values": [-100, 0, 100, 200, 300, 400, 500, 600, 700], "labelExpr": "datum.value == 0 ? '' : datum.value == 700 ? '700 ms' : '' + datum.value", "labelAlign": {"condition": {"test": "datum.value == 700", "value": "left"}, "value": "center"}, "labelOffset": {"condition": {"test": "datum.value == 700", "value": -20}, "value": 0}, "title": null, "tickSize": 5, "labelPadding": 6}},
        "y": {"field": "v", "type": "quantitative", "scale": {"domain": [-5, 20], "reverse": true, "nice": false, "zero": false}, "axis": {"orient": "left", "offset": -38.5, "values": [-5, 5, 10, 15, 20], "labelExpr": "datum.value < 0 ? '−5' : '+' + datum.value", "title": "Amplitude (μV)", "titleAngle": -90, "titleX": -63, "titleY": 200, "titleAlign": "center", "titleBaseline": "middle", "tickSize": 6, "labelPadding": 10}},
        "strokeWidth": {"field": "b", "type": "nominal", "scale": {"type": "ordinal", "domain": ["Baseline Block", "Test Block"], "range": [1.6, 3.8]}, "legend": null}
       }},
      {"transform": [{"filter": "datum.b == 'Test Block'"}],
       "mark": {"type": "line", "color": "black"},
       "encoding": {
        "x": {"field": "t", "type": "quantitative", "axis": {"orient": "bottom", "offset": -280, "values": [-100, 100, 200, 300, 400, 500, 600, 700], "labels": false, "title": null, "tickSize": 5}},
        "y": {"field": "v", "type": "quantitative", "axis": {"orient": "right", "offset": -269.5, "values": [-5, 5, 10, 15, 20], "labels": false, "title": null, "tickSize": 6}},
        "strokeWidth": {"field": "b", "type": "nominal", "legend": null}
       }}
     ]
    }
   ]}
  ]
 }
]
}
